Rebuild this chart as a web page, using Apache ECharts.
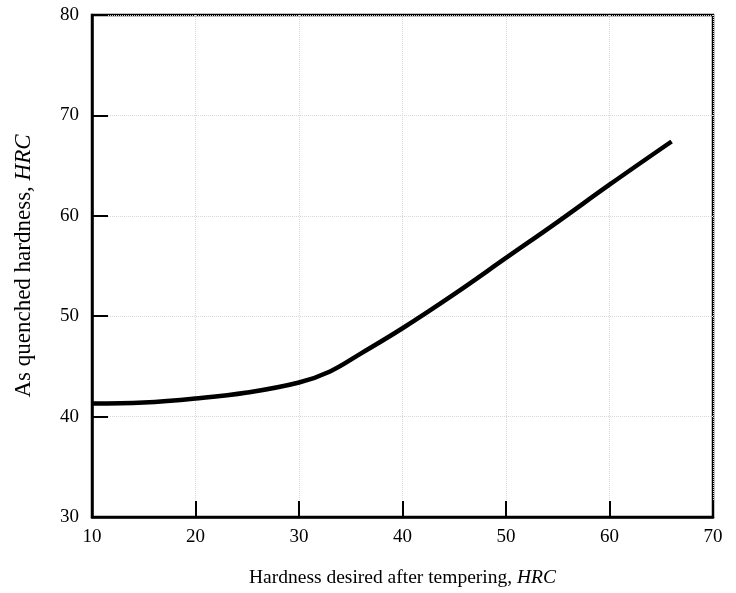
<!DOCTYPE html>
<html>
<head>
<meta charset="utf-8">
<script src="https://cdn.jsdelivr.net/npm/echarts@6/dist/echarts.min.js"></script>
<style>
  html, body { margin: 0; padding: 0; background: #fff; }
  #chart { width: 736px; height: 593px; }
</style>
</head>
<body>
<div id="chart"></div>
<script>
// hardness desired after tempering (HRC)
const temperedHRC = [10, 15, 20, 25, 30, 33, 36, 40, 45, 50, 55, 60, 66];
// as quenched hardness (HRC)
const quenchedHRC = [41.3, 41.4, 41.8, 42.4, 43.4, 44.5, 46.3, 48.8, 52.2, 55.8, 59.4, 63.1, 67.4];

const xTicks = [10, 20, 30, 40, 50, 60, 70];
const yTicks = [30, 40, 50, 60, 70, 80];

const fontFamily = "'Liberation Serif', 'DejaVu Serif', serif";

const chart = echarts.init(document.getElementById("chart"));

chart.setOption({
  animation: false,
  grid: {
    left: 92,
    right: 23,
    top: 15,
    bottom: 76,
    show: true,
    borderColor: "#000",
    borderWidth: 2.5,
  },
  xAxis: {
    type: "value",
    min: xTicks[0],
    max: xTicks[xTicks.length - 1],
    interval: 10,
    name: "{n|Hardness desired after tempering, }{i|HRC}",
    nameLocation: "middle",
    nameGap: 51,
    nameTextStyle: {
      rich: {
        n: { fontFamily, fontSize: 19.5, color: "#000" },
        i: { fontFamily, fontSize: 19.5, color: "#000", fontStyle: "italic" },
      },
    },
    axisLine: { lineStyle: { color: "#000", width: 2.5 } },
    axisTick: { inside: true, length: 16, lineStyle: { color: "#000", width: 2 } },
    axisLabel: { fontFamily, fontSize: 19, color: "#000", margin: 11 },
    splitLine: { show: true, lineStyle: { color: "#d8d8d8", type: "dotted", width: 1 } },
  },
  yAxis: {
    type: "value",
    min: yTicks[0],
    max: yTicks[yTicks.length - 1],
    interval: 10,
    name: "{n|As quenched hardness, }{i|HRC}",
    nameLocation: "middle",
    nameGap: 57,
    nameTextStyle: {
      rich: {
        n: { fontFamily, fontSize: 23, color: "#000" },
        i: { fontFamily, fontSize: 23, color: "#000", fontStyle: "italic" },
      },
    },
    axisLine: { lineStyle: { color: "#000", width: 2.5 } },
    axisTick: { inside: true, length: 16, lineStyle: { color: "#000", width: 2 } },
    axisLabel: { fontFamily, fontSize: 19, color: "#000", margin: 13 },
    splitLine: { show: true, lineStyle: { color: "#d8d8d8", type: "dotted", width: 1 } },
  },
  series: [
    {
      type: "line",
      data: temperedHRC.map((x, i) => [x, quenchedHRC[i]]),
      smooth: 0.4,
      showSymbol: false,
      lineStyle: { color: "#000", width: 4.5 },
    },
  ],
});
</script>
</body>
</html>
